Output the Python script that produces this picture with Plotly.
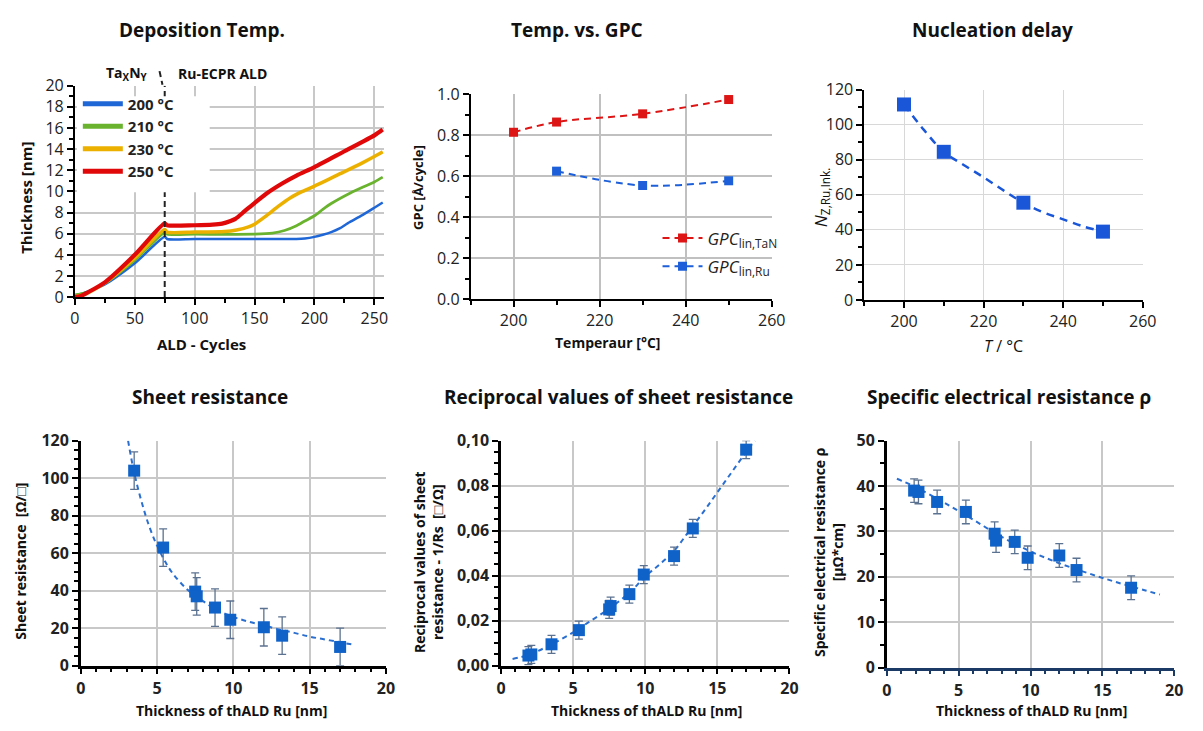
import plotly.graph_objects as go

FONT = "Open Sans"

# ---------------- Data ----------------
# Chart 1: thickness vs ALD cycles
cyc_200 = [0, 5, 10, 25, 50, 75, 77, 100, 150, 185, 192, 200, 207, 214, 221, 228, 240, 250, 257]
thk_200 = [0.15, 0.3, 0.5, 1.2, 3.2, 5.7, 5.5, 5.5, 5.5, 5.5, 5.55, 5.7, 5.9, 6.15, 6.5, 7.0, 7.75, 8.45, 8.95]
cyc_210 = [0, 5, 10, 25, 50, 75, 77, 100, 150, 165, 175, 185, 192, 200, 207, 214, 230, 250, 257]
thk_210 = [0.2, 0.3, 0.45, 1.3, 3.5, 6.1, 5.95, 5.95, 5.95, 6.05, 6.3, 6.75, 7.2, 7.7, 8.3, 8.85, 9.85, 10.9, 11.35]
cyc_230 = [0, 5, 10, 25, 50, 75, 77, 100, 125, 135, 145, 150, 160, 170, 180, 190, 200, 222, 240, 250, 257]
thk_230 = [0.05, 0.15, 0.35, 1.35, 3.7, 6.4, 6.15, 6.15, 6.2, 6.35, 6.65, 6.9, 7.7, 8.6, 9.4, 10.0, 10.5, 11.7, 12.7, 13.3, 13.75]
cyc_250 = [0, 5, 10, 25, 50, 75, 77, 100, 115, 123, 130, 134, 142, 150, 160, 173, 185, 200, 225, 250, 257]
thk_250 = [0.0, 0.1, 0.4, 1.4, 4.0, 6.97, 6.8, 6.8, 6.85, 6.95, 7.2, 7.4, 8.15, 8.9, 9.8, 10.75, 11.5, 12.3, 13.8, 15.3, 15.85]
temp_labels = ["200 °C", "210 °C", "230 °C", "250 °C"]

# Chart 2: GPC vs temperature
temp_tan = [200, 210, 230, 250]
gpc_tan = [0.815, 0.865, 0.905, 0.975]
temp_ru = [210, 230, 250]
gpc_ru = [0.625, 0.555, 0.578]

# Chart 3: nucleation delay
temp_nuc = [200, 210, 230, 250]
n_nuc = [111.5, 84.5, 55.5, 39]
fit_nuc_t = [200, 205, 210, 215, 220, 225, 230, 235, 240, 245, 250]
fit_nuc_n = [111.5, 97, 84.5, 77, 70, 62.5, 55.5, 50, 46, 42, 39]

# Chart 4: sheet resistance
thk_rs = [3.5, 5.4, 7.5, 7.6, 8.8, 9.8, 12.0, 13.2, 17.0]
rs = [104, 63, 39.5, 37, 31, 24.5, 20.5, 16, 10]
rs_err = [10, 10, 10, 10, 10, 10, 10, 10, 10]
fit_rs_x = [3.1, 3.5, 4.0, 4.5, 5.0, 5.5, 6.0, 7.0, 8.0, 9.0, 10.0, 11.0, 12.0, 13.0, 14.0, 15.0, 16.0, 17.0, 17.8]
fit_rs_y = [120, 103, 87, 74, 64, 56, 49.5, 40.5, 34.5, 29.5, 26, 23.5, 21.5, 19.3, 17.5, 15.5, 14, 12.5, 11.3]

# Chart 5: reciprocal sheet resistance
thk_g = [1.9, 2.1, 3.5, 5.4, 7.5, 7.6, 8.9, 9.9, 12.0, 13.3, 17.0]
g = [0.0045, 0.005, 0.0095, 0.0158, 0.025, 0.0265, 0.0318, 0.0405, 0.0487, 0.061, 0.096]
g_err = [0.004, 0.004, 0.004, 0.004, 0.004, 0.004, 0.004, 0.004, 0.004, 0.004, 0.004]
fit_g_x = [0.8, 2.0, 3.5, 5.0, 6.0, 7.5, 9.0, 10.0, 11.0, 12.0, 13.0, 14.0, 15.0, 16.0, 17.0, 17.6]
fit_g_y = [0.003, 0.005, 0.0095, 0.0148, 0.019, 0.0253, 0.033, 0.0397, 0.045, 0.051, 0.0595, 0.068, 0.077, 0.086, 0.095, 0.1]
g_tickvals = [0, 0.02, 0.04, 0.06, 0.08, 0.10]
g_ticktext = ["0,00", "0,02", "0,04", "0,06", "0,08", "0,10"]

# Chart 6: specific resistance
thk_rho = [1.9, 2.2, 3.5, 5.5, 7.5, 7.6, 8.9, 9.8, 12.0, 13.2, 17.0]
rho = [39, 38.7, 36.5, 34.3, 29.5, 28.0, 27.7, 24.2, 24.7, 21.5, 17.6]
rho_err = [2.6, 2.6, 2.6, 2.6, 2.6, 2.6, 2.6, 2.6, 2.6, 2.6, 2.6]
fit_rho_x = [0.7, 2, 4, 6, 8, 10, 12, 14, 16, 18, 19]
fit_rho_y = [41.6, 39.8, 36.3, 32.6, 28.8, 25.6, 23.0, 20.8, 18.8, 17.0, 16.1]

# ---------------- Figure ----------------
W, H = 1203, 731
def px(x):
    return x / W
def py(y):
    return 1 - y / H

fig = go.Figure()

c_blue, c_green, c_yellow, c_red = "#1f66d6", "#6ab32e", "#ecb100", "#e00808"
for cx, cy, col, w in [(cyc_200, thk_200, c_blue, 2.5), (cyc_210, thk_210, c_green, 2.8),
                       (cyc_230, thk_230, c_yellow, 3.5), (cyc_250, thk_250, c_red, 4.2)]:
    fig.add_trace(go.Scatter(x=cx, y=cy, mode="lines", line=dict(color=col, width=w, shape="spline", smoothing=0.7),
                             showlegend=False, xaxis="x", yaxis="y", hoverinfo="skip"))
for i, (lab, col) in enumerate(zip(temp_labels, [c_blue, c_green, c_yellow, c_red])):
    fig.add_trace(go.Scatter(x=[None], y=[None], mode="lines", name=lab,
                             line=dict(color=col, width=5), legend="legend",
                             legendgroup=str(i), xaxis="x", yaxis="y"))

# chart 2
fig.add_trace(go.Scatter(x=temp_tan, y=gpc_tan, mode="lines+markers", line_shape="spline",
                         name="<i>GPC</i><sub>lin,TaN</sub>",
                         line=dict(color="#dd1515", width=2, dash="7px,5px"),
                         marker=dict(symbol="square", size=9, color="#dd1515"),
                         legend="legend2", legendgroup="a", xaxis="x2", yaxis="y2", cliponaxis=False))
fig.add_trace(go.Scatter(x=temp_ru, y=gpc_ru, mode="lines+markers", line_shape="spline",
                         name="<i>GPC</i><sub>lin,Ru</sub>",
                         line=dict(color="#1c5fd8", width=2, dash="7px,5px"),
                         marker=dict(symbol="square", size=9, color="#1c5fd8"),
                         legend="legend2", legendgroup="b", xaxis="x2", yaxis="y2", cliponaxis=False))

# chart 3
fig.add_trace(go.Scatter(x=fit_nuc_t, y=fit_nuc_n, mode="lines", line_shape="spline",
                         line=dict(color="#1a56d8", width=2.5, dash="8px,6px"),
                         showlegend=False, xaxis="x3", yaxis="y3"))
fig.add_trace(go.Scatter(x=temp_nuc, y=n_nuc, mode="markers",
                         marker=dict(symbol="square", size=14, color="#1a56d8"),
                         showlegend=False, xaxis="x3", yaxis="y3", cliponaxis=False))

mk = "#0f62c8"
errc = "#5b7290"
for ax, fx, fy, dx, dy, de in [("4", fit_rs_x, fit_rs_y, thk_rs, rs, rs_err),
                               ("5", fit_g_x, fit_g_y, thk_g, g, g_err),
                               ("6", fit_rho_x, fit_rho_y, thk_rho, rho, rho_err)]:
    fig.add_trace(go.Scatter(x=fx, y=fy, mode="lines", line_shape="spline",
                             line=dict(color="#2a6fd0", width=2, dash="5px,4px"),
                             showlegend=False, xaxis="x" + ax, yaxis="y" + ax))
    fig.add_trace(go.Scatter(x=dx, y=dy, mode="markers",
                             marker=dict(symbol="square", size=12, color=mk),
                             error_y=dict(type="data", array=de, color=errc, thickness=1.3, width=4),
                             showlegend=False, xaxis="x" + ax, yaxis="y" + ax, cliponaxis=False))

# ---------------- Axes ----------------
def axis(domain, rng, dtick=None, minor=None, anchor=None, gridc="#c8c8c8", gridw=1.5,
         linew=2, linec="black", tickfont=None, **kw):
    d = dict(domain=domain, range=rng, showgrid=True, gridcolor=gridc, gridwidth=gridw,
             showline=True, linecolor=linec, linewidth=linew, ticks="outside", ticklen=6,
             tickwidth=1.5, tickcolor=linec, zeroline=False, anchor=anchor,
             tickfont=tickfont or dict(family=FONT, size=16, color="#222"), fixedrange=True)
    if dtick is not None:
        d["dtick"] = dtick
    if minor is not None:
        d["minor"] = dict(dtick=minor, ticks="outside", ticklen=4, tickwidth=1.5, tickcolor=linec, showgrid=False)
    d.update(kw)
    return d

top_font = dict(family=FONT, size=16, color="#222")
bot_font = dict(family=FONT, size=16, color="#222", weight="bold")

fig.update_layout(
    xaxis=axis([px(71), px(385)], [0, 258], 50, 25, "y", tickfont=top_font, tick0=0),
    yaxis=axis([py(295), py(77)], [0, 20], 2, 1, "x", tickfont=top_font),
    xaxis2=axis([px(473), px(779)], [190, 260], 20, 10, "y2", gridc="#c0c0c0", linew=1.5, tickfont=top_font, tick0=200),
    yaxis2=axis([py(297), py(86)], [0, 1.0], 0.2, 0.1, "x2", gridc="#c0c0c0", linew=1.5, tickfont=top_font, tickformat=".1f"),
    xaxis3=axis([px(873), px(1156)], [190, 260], 20, 10, "y3", gridc="#d8d8d8", gridw=1, linew=1.5, tickfont=top_font, tick0=200),
    yaxis3=axis([py(298), py(81)], [0, 120], 20, 10, "x3", gridc="#d8d8d8", gridw=1, linew=1.5, tickfont=top_font),
    xaxis4=axis([px(77), px(387)], [0, 20], 5, 1, "y4", gridw=2, linew=2.5, tickfont=bot_font),
    yaxis4=axis([py(675), py(443)], [0, 120], 20, 5, "x4", gridw=2, linew=2.5, tickfont=bot_font),
    xaxis5=axis([px(504), px(797)], [0, 20], 5, 1, "y5", gridw=2, linew=2.5, tickfont=bot_font),
    yaxis5=axis([py(675), py(443)], [0, 0.1], None, 0.005, "x5", gridw=2, linew=2.5, tickfont=bot_font,
                tickmode="array", tickvals=g_tickvals, ticktext=g_ticktext),
    xaxis6=axis([px(896), px(1188)], [0, 20], 5, 1, "y6", gridw=2, linew=2.5, linec="#1c3a66", tickfont=bot_font),
    yaxis6=axis([py(677), py(443)], [0, 50], 10, 5, "x6", gridw=2, linew=2.5, tickfont=bot_font),
)

fig.update_layout(
    width=W, height=H, margin=dict(l=0, r=0, t=0, b=0),
    paper_bgcolor="white", plot_bgcolor="white",
    font=dict(family=FONT, color="#222"),
    legend=dict(x=px(74), y=py(79), xanchor="left", yanchor="top", bgcolor="rgba(0,0,0,0)",
                font=dict(family=FONT, size=15, color="#222", weight="bold"),
                tracegroupgap=0, itemwidth=40),
    legend2=dict(x=px(663), y=py(216), xanchor="left", yanchor="top", bgcolor="rgba(0,0,0,0)",
                 font=dict(family=FONT, size=17, color="#222"), tracegroupgap=3, itemwidth=40),
    showlegend=True,
)

shapes = [
    dict(type="line", xref="x", yref="y", x0=75, x1=75, y0=0, y1=20,
         line=dict(color="#222", width=2, dash="6px,4px"), layer="above"),
    dict(type="line", xref="paper", yref="paper", x0=px(157), x1=px(160), y0=py(62), y1=py(76),
         line=dict(color="#222", width=2, dash="6px,4px")),
    dict(type="rect", xref="paper", yref="paper", x0=px(73), x1=px(208), y0=py(187), y1=py(88),
         fillcolor="white", line=dict(width=0), layer="above"),
]
fig.update_layout(shapes=shapes)

def ann(x, y, text, size=14, bold=True, angle=0, xanchor="center"):
    return dict(x=px(x), y=py(y), xref="paper", yref="paper", text=text, showarrow=False,
                textangle=angle, xanchor=xanchor, yanchor="middle",
                font=dict(family=FONT, size=size, color="#111", weight="bold" if bold else "normal"))

annotations = [
    ann(200, 20, "Deposition Temp.", 19),
    ann(581, 20, "Temp. vs. GPC", 19),
    ann(1003, 20, "Nucleation delay", 19),
    ann(208, 398, "Sheet resistance", 19),
    ann(623, 398, "Reciprocal values of sheet resistance", 19),
    ann(1020, 398, "Specific electrical resistance ρ", 19),
    ann(124, 64, "Ta<sub>X</sub>N<sub>Y</sub>", 14),
    ann(221, 64, "Ru-ECPR ALD", 14),
    ann(200, 343, "ALD - Cycles", 15),
    ann(22, 193, "Thickness [nm]", 15, angle=-90),
    ann(612, 342, "Temperaur [°C]", 14),
    ann(419, 182, "GPC [Å/cycle]", 13, angle=-90),
    ann(1015, 345, "<i>T</i> / °C", 16, bold=False),
    ann(829, 192, "<i>N</i><sub>Z,Ru,Ink.</sub>", 17, bold=False, angle=-90),
    ann(230, 721, "Thickness of thALD Ru [nm]", 14),
    ann(652, 721, "Thickness of thALD Ru [nm]", 14),
    ann(1043, 721, "Thickness of thALD Ru [nm]", 14),
    ann(16, 567, "Sheet resistance  [Ω/□]", 14, angle=-90),
    ann(431, 568, "Reciprocal values of sheet<br>resistance - 1/Rs  [□/Ω]", 14, angle=-90),
    ann(836, 558, "Specific electrical resistance ρ<br>[μΩ*cm]", 14, angle=-90),
]
fig.update_layout(annotations=annotations)

fig.write_html("out.html")
